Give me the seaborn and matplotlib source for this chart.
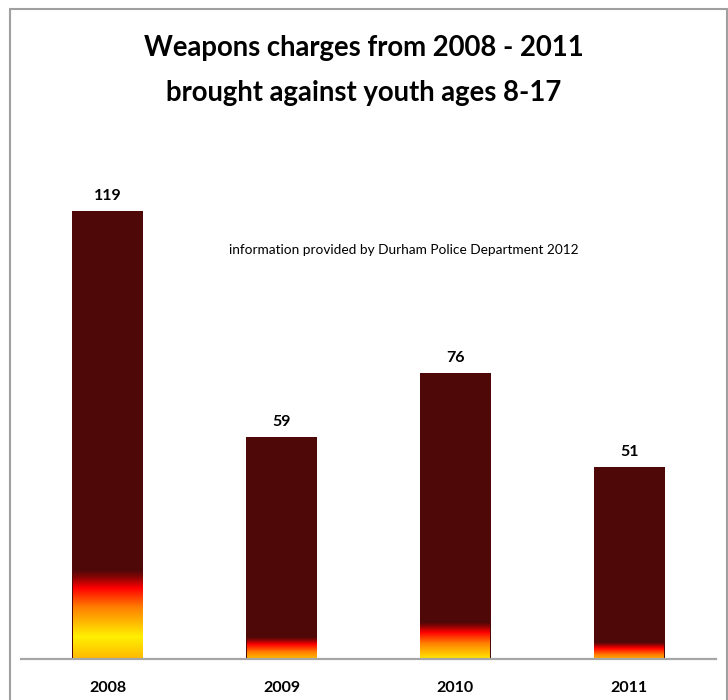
import numpy as np
import pandas as pd
import matplotlib
matplotlib.use("Agg")
import matplotlib.pyplot as plt
from matplotlib.colors import LinearSegmentedColormap
from matplotlib.patches import Rectangle
import seaborn as sns

# ---- data ----
years = ["2008", "2009", "2010", "2011"]
charges = [119, 59, 76, 51]
title_lines = ["Weapons charges from 2008 - 2011", "brought against youth ages 8-17"]
note = "information provided by Durham Police Department 2012"

sns.set_theme(style="white")
plt.rcParams["font.family"] = ["Lato", "DejaVu Sans"]

W, H = 728, 700
fig = plt.figure(figsize=(W / 100, H / 100), dpi=100)
ax = fig.add_axes([21 / W, 41 / H, 695 / W, 527 / H])

df = pd.DataFrame({"year": years, "charges": charges})
dark = "#4E0808"
sns.barplot(data=df, x="year", y="charges", color=dark, saturation=1,
            width=0.41, ax=ax, zorder=2, linewidth=0, edgecolor="none")
ax.set_xlim(-0.5, 3.5)
ax.set_ylim(0, 140)

# fire gradient at the bottom of each bar (p=0 at top of gradient -> p=1 at bottom)
fire = LinearSegmentedColormap.from_list(
    "fire",
    [(0.0, dark), (0.08, "#8A0404"), (0.2, "#FF0000"), (0.42, "#FF8000"),
     (0.75, "#FFF000"), (1.0, "#FFB800")])
vmax = max(charges)
G = 23.6
for patch, v in zip(ax.patches, charges):
    x0 = patch.get_x()
    w = patch.get_width()
    r = v / vmax
    g = G * r ** 2
    L = G * r ** 1.3
    ys = np.linspace(0, g, 200)
    p = np.clip((g - ys) / L, 0, 1)
    img = fire(p)[:, None, :]
    im = ax.imshow(img, extent=[x0 + 0.004, x0 + w - 0.004, 0, g], origin="lower",
                   aspect="auto", zorder=3, interpolation="bilinear")
    im.set_clip_path(patch)

ax.set_xlim(-0.5, 3.5)
ax.set_ylim(0, 140)

ax.bar_label(ax.containers[0], labels=[str(c) for c in charges], padding=6,
             fontsize=11.5, fontweight="bold", color="black")

ax.set_xlabel("")
ax.set_ylabel("")
ax.set_yticks([])
ax.tick_params(axis="x", length=0, pad=16, labelsize=11.5)
for lab in ax.get_xticklabels():
    lab.set_fontweight("bold")
    lab.set_color("black")
for s in ["top", "left", "right"]:
    ax.spines[s].set_visible(False)
ax.spines["bottom"].set_color("#A6A6A6")
ax.spines["bottom"].set_linewidth(1.6)
ax.spines["bottom"].set_zorder(4)
ax.patch.set_alpha(0)

ax.text(1.704, 108.6, note, ha="center", va="center", fontsize=9.8, color="black")

fig.text(0.5, 1 - 48 / H, title_lines[0], ha="center", va="center",
         fontsize=19.8, fontweight="bold", color="black")
fig.text(0.5, 1 - 93 / H, title_lines[1], ha="center", va="center",
         fontsize=19.8, fontweight="bold", color="black")

fig.patches.append(Rectangle((10 / W, -0.02), 717 / W, (H - 9) / H + 0.02,
                             transform=fig.transFigure, fill=False,
                             edgecolor="#A0A0A0", linewidth=1.5, zorder=0))

fig.savefig("out.png", dpi=100)
